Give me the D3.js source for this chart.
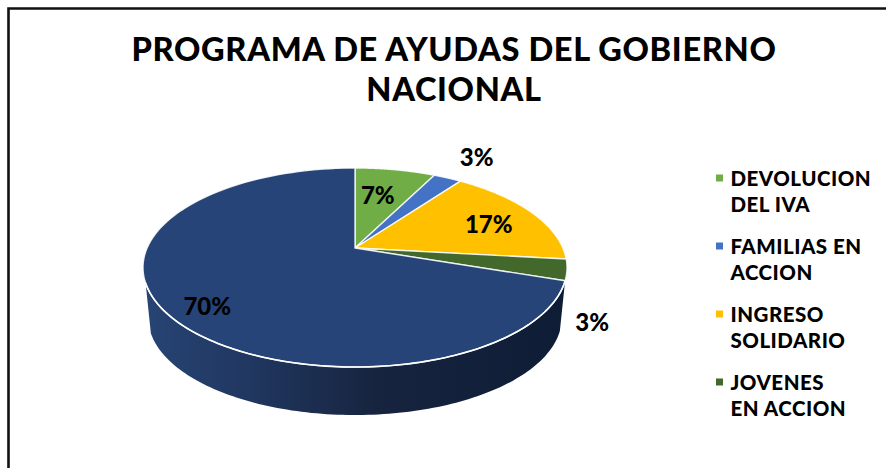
<!DOCTYPE html>
<html><head><meta charset="utf-8">
<script src="https://cdn.jsdelivr.net/npm/d3@7/dist/d3.min.js"></script>
<style>html,body{margin:0;padding:0;background:#fff}svg{display:block}</style>
</head><body><svg id="c" width="886" height="468"></svg>
<script>
const categories = [["DEVOLUCION","DEL IVA"],["FAMILIAS EN","ACCION"],["INGRESO","SOLIDARIO"],["JOVENES","EN ACCION"],null];
const values = [7.4, 2.6, 16.8, 3.4, 69.8];
const colors = ["#70ad47","#4472c4","#ffc000","#43682b","#264478"];
const titleLines = ["PROGRAMA DE AYUDAS DEL GOBIERNO","NACIONAL"];

const W=886,H=468,FONT="'Lato','Open Sans',sans-serif";
const svg=d3.select("#c");
const pct=d3.scaleLinear().domain([0,100]).range([0,100]);

// frame
svg.append("path").attr("d","M8.5,468V8.5H886").attr("fill","none").attr("stroke","#111").attr("stroke-width",2.6);

// title
svg.append("g").selectAll("text").data(titleLines).join("text")
  .attr("x",454).attr("y",(d,i)=>61+i*40).attr("text-anchor","middle")
  .attr("font-family",FONT).attr("font-weight",900).attr("font-size",32.6).attr("letter-spacing",0.65).attr("fill","#000").text(d=>d);

// perspective projection of the disc
const cx=355,cy=248,k=0.196,A=207.9,B=95.7;
const project=(a,r=1,scale=1,drop=0)=>{
  const u=Math.sin(a)*r,v=Math.cos(a)*r,den=1+k*v;
  return [cx+scale*A*u/den, cy+drop-scale*B*v/den];
};
const pie=d3.pie().sort(null).value(d=>d);
const arcs=pie(values);
const line=d3.line();
const range=(a0,a1)=>d3.range(0,121).map(i=>a0+(a1-a0)*i/120);

const defs=svg.append("defs");
const g=defs.append("linearGradient").attr("id","wall").attr("gradientUnits","userSpaceOnUse")
  .attr("x1",145).attr("x2",565).attr("y1",0).attr("y2",0);
[[0,"#274474"],[0.25,"#203760"],[0.55,"#17243f"],[1,"#0f1c36"]].forEach(([o,c])=>g.append("stop").attr("offset",o).attr("stop-color",c));

// side wall of the largest slice
const big=arcs[4];
const a0=big.startAngle, a1=250*Math.PI/180;
const wallPts=[...range(a0,a1).map(a=>project(a)),...range(a1,a0).map(a=>project(a,1,0.975,51))];
svg.append("path").attr("d",line(wallPts)+"Z").attr("fill","url(#wall)");

// top slices
svg.append("g").selectAll("path").data(arcs).join("path")
  .attr("d",d=>line([[cx,cy],...range(d.startAngle,d.endAngle).map(a=>project(a))])+"Z")
  .attr("fill",(d,i)=>colors[i]).attr("stroke","#fff").attr("stroke-opacity",0.85).attr("stroke-width",1.4).attr("stroke-linejoin","round");

// highlight along the front edge
svg.append("path").attr("d",line(range(a0,a1).map(a=>project(a)))).attr("fill","none").attr("stroke","#fff").attr("stroke-width",1.6);

// labels
const labelRho=[0.6,1.25,0.75,1.1,0.8];
const labelNudge=[[-3,-3],[10,-7],[-1,3],[3,49],[1,8]];
svg.append("g").selectAll("text").data(arcs).join("text")
  .attr("x",(d,i)=>project((d.startAngle+d.endAngle)/2,labelRho[i])[0]+labelNudge[i][0])
  .attr("y",(d,i)=>project((d.startAngle+d.endAngle)/2,labelRho[i])[1]+labelNudge[i][1])
  .attr("text-anchor","middle").attr("dominant-baseline","central")
  .attr("font-family",FONT).attr("font-weight",900).attr("font-size",24).attr("fill","#000")
  .text(d=>Math.round(pct(d.value))+"%");

// legend
const legY=d3.scalePoint().domain([0,1,2,3]).range([178,382]);
const leg=svg.append("g").selectAll("g").data(categories.slice(0,4)).join("g")
  .attr("transform",(d,i)=>`translate(0,${legY(i)})`);
leg.append("rect").attr("x",716).attr("y",-3.5).attr("width",7).attr("height",7).attr("fill",(d,i)=>colors[i]);
leg.each(function(d){
  d3.select(this).selectAll("text").data(d).join("text")
    .attr("x",730.5).attr("y",(t,j)=>7.5+j*26.5)
    .attr("font-family",FONT).attr("font-weight",900).attr("font-size",20.5).attr("letter-spacing",0.5).attr("fill","#000").text(t=>t);
});
</script></body></html>
